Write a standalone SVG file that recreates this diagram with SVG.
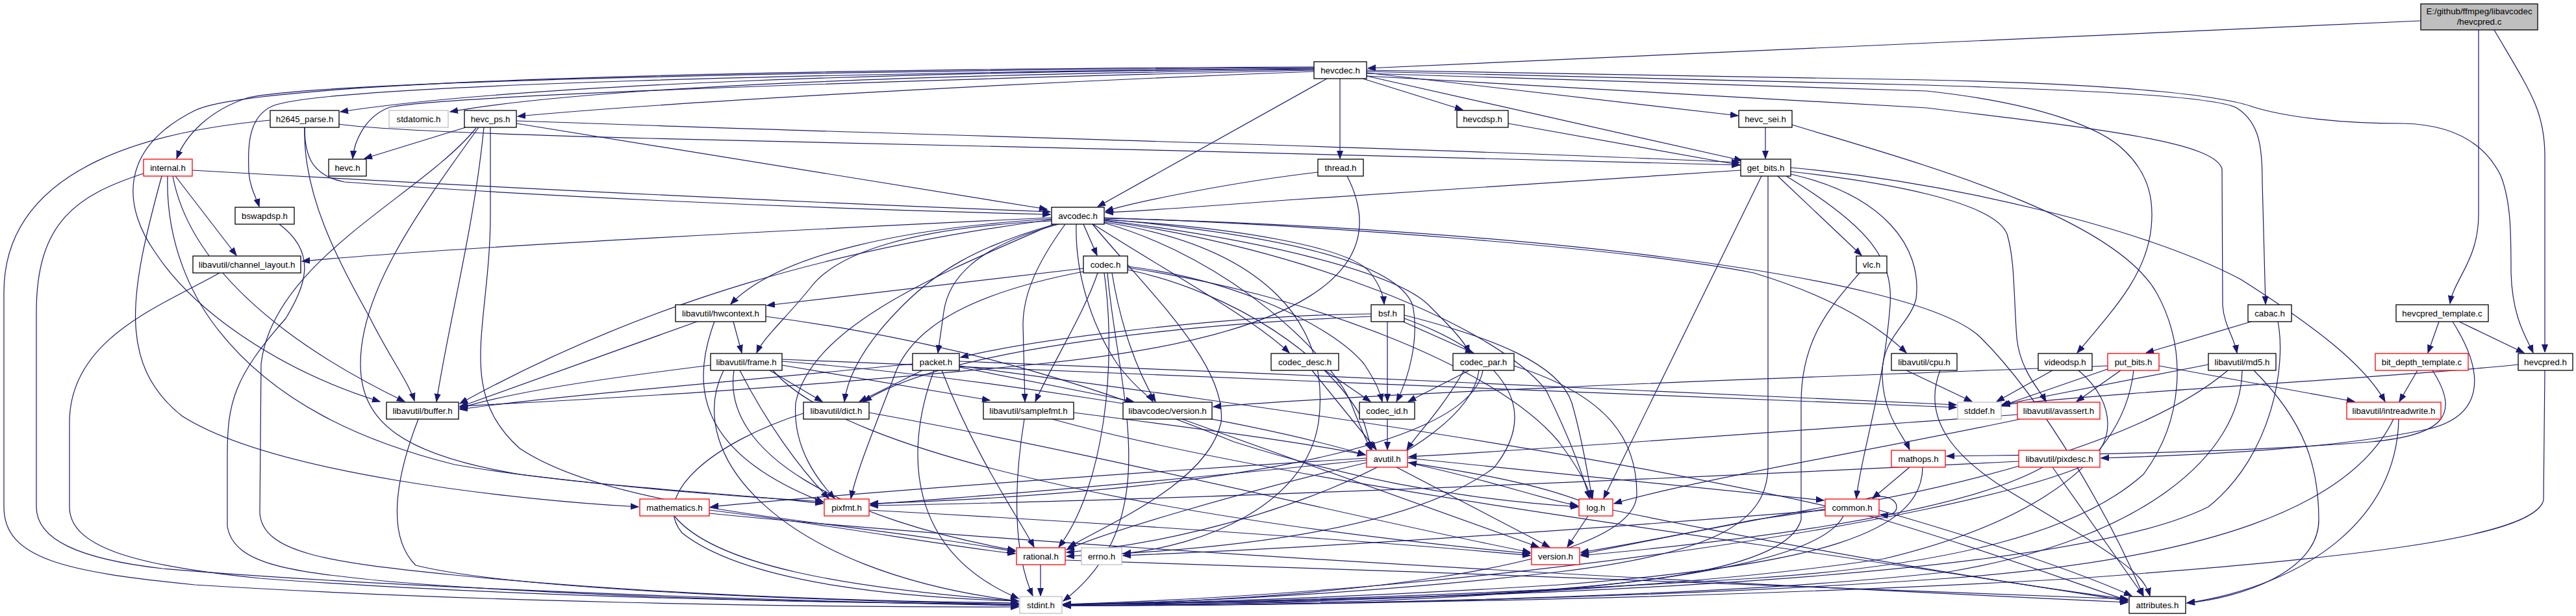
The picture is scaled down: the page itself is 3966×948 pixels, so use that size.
<svg xmlns="http://www.w3.org/2000/svg" width="3966" height="948" viewBox="0 0 3966 948">
<defs>
<marker id="a" markerWidth="13" markerHeight="11" refX="12" refY="5" orient="auto" markerUnits="userSpaceOnUse"><path d="M0,0.5 L12,5 L0,9.5 z" fill="#191970" stroke="#191970" stroke-width="1"/></marker>
<style>
.n rect{fill:#fff;stroke:#000;stroke-width:1.3}
.r rect{stroke:#ff0000}
.g rect{stroke:#bfbfbf}
.root rect{fill:#bfbfbf}
text{font-family:"Liberation Sans",Arial,sans-serif;font-size:13.3px;text-anchor:middle;fill:#000}
.e path{fill:none;stroke:#191970;stroke-width:1.2;marker-end:url(#a)}
</style>
</defs>
<rect width="3966" height="948" fill="#fff"/>
<g class="e" id="edges">
<!-- root -->
<path d="M3727,32 L2106,105"/>
<path d="M3816,46 L3816,330 C3816,400 3778,430 3772,467"/>
<path d="M3840,46 C3895,140 3918,170 3918,240 L3918,542"/>
<!-- hevcdec -->
<path d="M2023,106 C1400,110 800,130 524,172"/>
<path d="M2023,107 C1400,115 900,135 693,172"/>
<path d="M2023,110 C1500,130 1000,160 797,179"/>
<path d="M2023,104 C1300,108 500,125 383,150 C320,170 285,210 272,244"/>
<path d="M2023,108 C1500,120 700,145 600,165 C560,180 545,220 543,244"/>
<path d="M2023,105 C1300,112 500,130 420,163 C380,180 382,230 383,265 C385,290 395,305 399,318"/>
<path d="M2023,103 C1300,106 400,120 300,170 C180,230 190,320 240,390 C300,480 430,570 585,618"/>
<path d="M2043,121 L1690,318"/>
<path d="M2063,121 L2063,244"/>
<path d="M2098,121 L2252,169"/>
<path d="M2104,117 L2682,247"/>
<path d="M2104,112 L2676,178"/>
<path d="M2104,110 L2966,131 C3250,140 3420,150 3445,167 C3480,190 3483,230 3483,280 L3488,468"/>
<path d="M2104,108 L2966,123 C3300,130 3430,150 3470,165 C3520,180 3600,190 3700,190 C3790,192 3830,230 3850,270 C3866,310 3866,360 3866,420 C3868,490 3890,520 3900,543"/>
<path d="M2104,113 L2966,140 C3150,160 3240,200 3272,233 C3310,270 3316,310 3312,350 C3305,420 3260,470 3198,543"/>
<path d="M2104,117 L2966,166 C3250,200 3410,220 3421,260 L3422,470 C3424,500 3440,520 3444,543"/>
<!-- h2645 -->
<path d="M522,191 C560,197 700,205 1000,213 C1500,225 2200,240 2678,254"/>
<path d="M469,196 C469,240 480,270 530,280 C800,300 1200,320 1617,330"/>
<path d="M469,196 C466,300 520,400 570,490 C600,550 630,590 638,617"/>
<path d="M416,185 C250,200 6,250 6,450 L6,780 C6,860 100,880 300,900 C700,925 1200,935 1568,934"/>
<!-- hevc_ps -->
<path d="M795,186 L1000,193 C1500,210 2200,228 2678,250"/>
<path d="M795,190 L1612,322"/>
<path d="M717,196 L561,244"/>
<path d="M745,196 C730,350 690,500 672,618"/>
<path d="M737,196 C640,330 555,450 555,560 C555,650 620,700 800,730 C1000,755 1150,765 1267,772"/>
<path d="M755,196 L755,330 C755,500 700,600 800,690 C950,790 1300,800 1563,849"/>
<path d="M733,197 C650,300 420,400 402,560 L400,790 C405,850 500,865 700,885 C1000,915 1300,925 1568,928"/>
<!-- hevcdsp / hevc_sei -->
<path d="M2322,190 L2679,254"/>
<path d="M2718,196 L2718,244"/>
<path d="M2759,192 C2950,250 3250,330 3320,450 C3370,540 3360,650 3300,730 C3200,820 3000,870 2700,890 C2300,915 1900,928 1637,930"/>
<!-- internal -->
<path d="M296,262 C700,285 1200,310 1617,326"/>
<path d="M221,267 C120,300 56,340 56,480 L56,780 C56,830 120,860 250,875 C600,905 1200,925 1568,932"/>
<path d="M270,271 L364,393"/>
<path d="M249,271 C200,450 180,560 280,640 C420,730 800,770 983,780"/>
<path d="M266,271 C290,400 420,520 623,618"/>
<path d="M258,271 C255,380 300,460 330,500 C420,620 560,680 700,715 C900,750 1150,760 1267,775"/>
<!-- thread -->
<path d="M2029,265 C1900,280 1750,310 1702,325"/>
<path d="M2074,271 C2150,420 2000,520 1600,560 C1200,600 900,615 708,625"/>
<!-- get_bits -->
<path d="M2737,271 L2866,393"/>
<path d="M2680,262 L1980,308 C1850,318 1750,325 1702,327"/>
<path d="M2712,271 L2469,767"/>
<path d="M2722,271 L2722,720 C2720,800 2650,850 2400,880 C2100,915 1800,928 1637,930"/>
<path d="M2750,271 C2880,350 2915,400 2910,470 C2900,600 2865,700 2858,767"/>
<path d="M2757,268 C2900,300 2960,380 2950,460 C2940,500 2895,520 2898,580 C2900,640 2930,670 2940,692"/>
<path d="M2757,258 C3000,280 3300,350 3450,430 C3560,500 3640,560 3672,618"/>
<path d="M2757,264 C2900,280 3070,310 3090,360 C3102,400 3100,450 3105,520 C3110,570 3140,600 3150,618"/>
<!-- bswapdsp -->
<path d="M430,345 C490,390 470,440 440,490 C360,580 350,620 350,700 L350,810 C360,870 450,880 600,895 C900,920 1300,928 1568,930"/>
<!-- avcodec -->
<path d="M1619,335 C1300,350 700,380 465,402"/>
<path d="M1619,338 C1300,380 1000,460 708,621"/>
<path d="M1619,337 C1400,350 1200,390 1125,468"/>
<path d="M1619,340 C1400,350 1290,390 1250,440 C1210,490 1175,520 1165,543"/>
<path d="M1625,345 C1500,380 1440,420 1390,470 C1330,530 1305,580 1300,618"/>
<path d="M1630,345 C1500,380 1460,430 1453,480 L1444,543"/>
<path d="M1657,345 C1655,420 1680,500 1720,560 C1750,600 1770,610 1775,618"/>
<path d="M1668,345 L1689,393"/>
<path d="M1640,345 C1600,400 1575,450 1575,500 L1578,618"/>
<path d="M1700,335 C2000,345 2500,380 2700,420 C2800,450 2880,490 2935,543"/>
<path d="M1700,336 C2300,350 2950,420 3050,520 C3150,620 3250,800 3300,917"/>
<path d="M1700,342 C1950,380 2050,500 2030,650 C2010,780 1850,840 1729,852"/>
<path d="M1700,343 C1900,400 2050,550 2080,620 C2095,660 2105,680 2110,692"/>
<path d="M1700,340 C2000,380 2300,500 2380,600 C2420,680 2440,740 2447,767"/>
<path d="M1622,345 C1450,420 1250,500 1225,620 C1220,690 1260,740 1285,767"/>
<path d="M1682,345 C1760,440 1890,560 1880,650 C1860,740 1720,800 1645,842"/>
<path d="M1700,338 C1900,350 2080,380 2110,420 C2125,440 2130,455 2131,468"/>
<path d="M1683,345 C1800,420 1930,490 1985,543"/>
<path d="M1700,339 C1950,370 2150,420 2200,470 C2230,500 2255,525 2262,543"/>
<path d="M1700,337 C1950,360 2150,400 2175,470 C2185,520 2170,580 2150,618"/>
<!-- channel_layout -->
<path d="M338,420 C250,470 107,520 107,650 L107,780 C107,840 200,870 400,890 C800,920 1300,928 1568,930"/>
<!-- codec -->
<path d="M1668,413 L1181,470"/>
<path d="M1668,418 C1500,450 1410,500 1380,570 C1350,650 1320,720 1310,767"/>
<path d="M1736,415 C1900,450 2050,550 2100,650 L2112,692"/>
<path d="M1736,412 C2000,450 2300,560 2400,680 C2430,720 2445,750 2450,767"/>
<path d="M1700,420 C1720,560 1700,750 1630,842"/>
<path d="M1690,420 C1670,480 1620,560 1594,618"/>
<path d="M1736,410 C1900,430 2050,500 2100,560 C2120,590 2125,605 2128,618"/>
<path d="M1712,420 C1725,500 1750,570 1779,618"/>
<path d="M1705,420 C1720,600 1800,800 1637,925"/>
<!-- vlc -->
<path d="M2863,420 C2820,470 2773,520 2773,620 L2773,800 C2750,880 2500,905 2200,918 C1900,928 1700,930 1637,930"/>
<!-- hwcontext -->
<path d="M1073,495 L708,626"/>
<path d="M1129,495 L1142,543"/>
<path d="M1179,487 C1500,530 1700,600 1900,680 C2150,760 2350,775 2430,780"/>
<path d="M1100,495 C1060,600 1080,700 1268,773"/>
<!-- bsf -->
<path d="M2136,495 L2136,618"/>
<path d="M2160,495 L2268,543"/>
<path d="M2111,483 C1900,485 1600,520 1479,550"/>
<path d="M2111,487 C1800,500 1450,540 1330,618"/>
<path d="M2162,485 C2300,520 2400,560 2420,620 C2440,690 2445,740 2452,767"/>
<path d="M2162,490 C2300,540 2380,620 2300,720 C2150,830 1800,850 1642,856"/>
<!-- cabac -->
<path d="M3466,495 L3304,543"/>
<path d="M3507,495 C3520,560 3500,700 3400,780 C3200,880 2500,920 1637,930"/>
<!-- hevcpred_template -->
<path d="M3755,495 L3738,543"/>
<path d="M3786,495 L3886,543"/>
<path d="M3776,495 C3830,580 3820,640 3740,660 C3600,690 3400,700 3235,705"/>
<!-- frame -->
<path d="M1094,562 C950,580 800,600 708,628"/>
<path d="M1185,570 L1266,618"/>
<path d="M1204,562 L1524,616"/>
<path d="M1204,556 C1500,580 1900,640 2102,700"/>
<path d="M1139,570 C1180,650 1230,720 1276,767"/>
<path d="M1130,570 C1110,700 1300,800 1563,847"/>
<path d="M1204,553 C1700,570 2500,610 3012,627"/>
<path d="M1114,570 C1050,700 1200,880 1568,925"/>
<path d="M1190,570 C1300,700 1800,800 2356,852"/>
<!-- packet -->
<path d="M1420,570 L1323,618"/>
<path d="M1405,560 C1100,590 850,610 708,630"/>
<path d="M1477,565 L1745,618"/>
<path d="M1450,570 C1500,700 1570,800 1592,842"/>
<path d="M1438,570 C1390,700 1400,850 1568,921"/>
<path d="M1477,556 C2000,575 2600,605 3012,623"/>
<path d="M1477,563 C1900,620 2500,700 2900,800 C3100,860 3200,900 3276,924"/>
<!-- codec_desc -->
<path d="M2040,570 L2110,618"/>
<path d="M2020,570 L2119,692"/>
<!-- codec_par -->
<path d="M2262,570 L2168,618"/>
<path d="M2254,570 C2220,630 2180,670 2166,692"/>
<path d="M2277,570 C2260,700 1900,830 1642,850"/>
<path d="M2283,570 C2260,700 1800,760 1340,775"/>
<path d="M2331,563 C2480,610 2520,680 2520,760 C2520,880 2000,925 1637,931"/>
<!-- cpu -->
<path d="M2935,570 L3036,618"/>
<path d="M2987,570 C2960,640 3000,700 3100,760 C3250,850 3300,880 3310,917"/>
<!-- videodsp -->
<path d="M3160,570 L3074,618"/>
<path d="M3200,570 C3260,620 3260,690 3200,720 C3000,800 2300,910 1637,930"/>
<!-- put_bits -->
<path d="M3245,568 L3080,625"/>
<path d="M3265,570 L3197,618"/>
<path d="M3324,563 L3625,618"/>
<path d="M3285,570 C3270,700 3150,800 2900,860 C2500,920 1900,930 1637,932"/>
<path d="M3245,563 C2800,580 2200,600 1868,626"/>
<!-- md5 -->
<path d="M3400,561 L3082,623"/>
<path d="M3452,570 C3450,700 3300,830 3000,880 C2600,925 1900,932 1637,932"/>
<path d="M3430,570 C3300,680 3000,760 2700,800 C2550,830 2450,850 2434,853"/>
<path d="M3470,570 C3550,650 3570,720 3570,800 C3570,880 3450,920 3367,928"/>
<!-- bit_depth -->
<path d="M3722,570 L3694,618"/>
<path d="M3745,570 C3790,640 3760,670 3650,680 C3400,700 3100,700 2997,702"/>
<!-- hevcpred -->
<path d="M3877,561 C3700,580 3300,600 3083,623"/>
<path d="M3918,570 L3916,770 C3900,830 3600,860 3200,890 C2600,925 1900,932 1637,932"/>
<!-- buffer -->
<path d="M644,645 C615,720 590,820 640,870 C800,910 1300,925 1568,930"/>
<!-- dict -->
<path d="M1237,636 C1100,680 1000,760 1050,820 C1150,900 1400,920 1568,925"/>
<path d="M1338,635 C1700,700 2100,800 2356,850"/>
<!-- samplefmt -->
<path d="M1577,645 C1560,750 1560,850 1590,917"/>
<path d="M1653,635 C1850,660 2000,680 2102,700"/>
<path d="M1620,645 C2000,750 2700,830 3276,925"/>
<!-- lavc version -->
<path d="M1820,645 L2369,842"/>
<!-- codec_id -->
<path d="M2136,645 L2136,692"/>
<!-- avassert -->
<path d="M3106,638 C2800,660 2400,690 2169,703"/>
<path d="M3110,645 C2900,690 2600,740 2485,775"/>
<!-- intreadwrite -->
<path d="M3685,645 C3620,780 3400,860 3000,890 C2500,925 1900,932 1637,932"/>
<path d="M3693,645 C3690,800 3550,900 3367,928"/>
<!-- avutil -->
<path d="M2167,712 C2300,740 2380,770 2429,778"/>
<path d="M2167,705 L2808,770"/>
<path d="M2150,719 L2386,842"/>
<path d="M2104,712 C1900,760 1700,820 1642,846"/>
<path d="M2104,705 C1700,730 1300,760 1094,780"/>
<path d="M2104,708 C1800,740 1500,765 1340,776"/>
<!-- mathops -->
<path d="M2940,719 L2883,767"/>
<path d="M2960,719 C2960,820 2800,870 2400,900 C2000,925 1700,930 1637,930"/>
<!-- pixdesc -->
<path d="M3108,710 C2500,740 1800,770 1340,778"/>
<path d="M3145,719 C3000,800 2600,840 2434,855"/>
<path d="M3160,719 L3300,917"/>
<!-- mathematics -->
<path d="M1038,794 C1100,870 1300,905 1568,925"/>
<path d="M1092,790 C1700,850 2700,900 3276,927"/>
<path d="M1092,785 C1300,810 1450,840 1563,852"/>
<!-- pixfmt -->
<path d="M1338,785 C1800,810 2200,840 2356,855"/>
<!-- log -->
<path d="M2431,770 C2350,740 2250,725 2169,712"/>
<path d="M2445,794 L2413,842"/>
<path d="M2483,785 C2800,850 3100,900 3276,922"/>
<!-- common -->
<path d="M2810,780 C2650,810 2500,840 2434,850"/>
<path d="M2838,794 C2800,870 2500,910 2100,925 C1900,930 1700,930 1637,930"/>
<path d="M2893,785 C3050,830 3200,880 3282,917"/>
<path d="M2810,785 C2500,810 2100,840 1729,855"/>
<path d="M2872,768 C2905,758 2920,770 2920,780 C2920,790 2910,794 2895,792"/>
<!-- rational -->
<path d="M1602,869 L1602,917"/>
<path d="M1640,862 C2200,880 2900,905 3276,922"/>
</g>
<g id="n_root" class="n root"><rect x="3727" y="6" width="180" height="40"/><text x="3817" y="22">E:/github/ffmpeg/libavcodec</text><text x="3817" y="38">/hevcpred.c</text></g>
<g id="n_hevcdec" class="n"><rect x="2023" y="95" width="81" height="26"/><text x="2063.5" y="113">hevcdec.h</text></g>
<g id="n_h2645" class="n"><rect x="416" y="170" width="106" height="26"/><text x="469" y="188">h2645_parse.h</text></g>
<g id="n_stdatomic" class="n g"><rect x="599" y="170" width="91" height="26"/><text x="644.5" y="188">stdatomic.h</text></g>
<g id="n_hevc_ps" class="n"><rect x="715" y="170" width="80" height="26"/><text x="755" y="188">hevc_ps.h</text></g>
<g id="n_hevcdsp" class="n"><rect x="2243" y="170" width="79" height="26"/><text x="2282.5" y="188">hevcdsp.h</text></g>
<g id="n_hevc_sei" class="n"><rect x="2677" y="170" width="82" height="26"/><text x="2718" y="188">hevc_sei.h</text></g>
<g id="n_internal" class="n r"><rect x="221" y="245" width="75" height="26"/><text x="258.5" y="263">internal.h</text></g>
<g id="n_hevc" class="n"><rect x="506" y="245" width="58" height="26"/><text x="535" y="263">hevc.h</text></g>
<g id="n_thread" class="n"><rect x="2029" y="245" width="70" height="26"/><text x="2064" y="263">thread.h</text></g>
<g id="n_get_bits" class="n"><rect x="2680" y="245" width="77" height="26"/><text x="2718.5" y="263">get_bits.h</text></g>
<g id="n_bswapdsp" class="n"><rect x="362" y="319" width="91" height="26"/><text x="407.5" y="337">bswapdsp.h</text></g>
<g id="n_avcodec" class="n"><rect x="1619" y="319" width="81" height="26"/><text x="1659.5" y="337">avcodec.h</text></g>
<g id="n_channel_layout" class="n"><rect x="297" y="394" width="166" height="26"/><text x="380" y="412">libavutil/channel_layout.h</text></g>
<g id="n_codec" class="n"><rect x="1668" y="394" width="68" height="26"/><text x="1702" y="412">codec.h</text></g>
<g id="n_vlc" class="n"><rect x="2858" y="394" width="47" height="26"/><text x="2881.5" y="412">vlc.h</text></g>
<g id="n_hwcontext" class="n"><rect x="1040" y="469" width="139" height="26"/><text x="1109.5" y="487">libavutil/hwcontext.h</text></g>
<g id="n_bsf" class="n"><rect x="2111" y="469" width="51" height="26"/><text x="2136.5" y="487">bsf.h</text></g>
<g id="n_cabac" class="n"><rect x="3461" y="469" width="67" height="26"/><text x="3494.5" y="487">cabac.h</text></g>
<g id="n_hevcpred_template" class="n"><rect x="3689" y="469" width="142" height="26"/><text x="3760" y="487">hevcpred_template.c</text></g>
<g id="n_frame" class="n"><rect x="1094" y="544" width="110" height="26"/><text x="1149" y="562">libavutil/frame.h</text></g>
<g id="n_packet" class="n"><rect x="1405" y="544" width="72" height="26"/><text x="1441" y="562">packet.h</text></g>
<g id="n_codec_desc" class="n"><rect x="1957" y="544" width="104" height="26"/><text x="2009" y="562">codec_desc.h</text></g>
<g id="n_codec_par" class="n"><rect x="2237" y="544" width="94" height="26"/><text x="2284" y="562">codec_par.h</text></g>
<g id="n_cpu" class="n"><rect x="2912" y="544" width="101" height="26"/><text x="2962.5" y="562">libavutil/cpu.h</text></g>
<g id="n_videodsp" class="n"><rect x="3138" y="544" width="83" height="26"/><text x="3179.5" y="562">videodsp.h</text></g>
<g id="n_put_bits" class="n r"><rect x="3245" y="544" width="79" height="26"/><text x="3284.5" y="562">put_bits.h</text></g>
<g id="n_md5" class="n"><rect x="3400" y="544" width="104" height="26"/><text x="3452" y="562">libavutil/md5.h</text></g>
<g id="n_bit_depth" class="n r"><rect x="3657" y="544" width="143" height="26"/><text x="3728.5" y="562">bit_depth_template.c</text></g>
<g id="n_hevcpred" class="n"><rect x="3877" y="544" width="84" height="26"/><text x="3919" y="562">hevcpred.h</text></g>
<g id="n_buffer" class="n"><rect x="595" y="619" width="111" height="26"/><text x="650.5" y="637">libavutil/buffer.h</text></g>
<g id="n_dict" class="n"><rect x="1237" y="619" width="101" height="26"/><text x="1287.5" y="637">libavutil/dict.h</text></g>
<g id="n_samplefmt" class="n"><rect x="1514" y="619" width="139" height="26"/><text x="1583.5" y="637">libavutil/samplefmt.h</text></g>
<g id="n_lavc_version" class="n"><rect x="1729" y="619" width="137" height="26"/><text x="1797.5" y="637">libavcodec/version.h</text></g>
<g id="n_codec_id" class="n"><rect x="2093" y="619" width="85" height="26"/><text x="2135.5" y="637">codec_id.h</text></g>
<g id="n_stddef" class="n g"><rect x="3014" y="619" width="67" height="26"/><text x="3047.5" y="637">stddef.h</text></g>
<g id="n_avassert" class="n r"><rect x="3106" y="619" width="127" height="26"/><text x="3169.5" y="637">libavutil/avassert.h</text></g>
<g id="n_intreadwrite" class="n r"><rect x="3613" y="619" width="145" height="26"/><text x="3685.5" y="637">libavutil/intreadwrite.h</text></g>
<g id="n_avutil" class="n r"><rect x="2104" y="693" width="63" height="26"/><text x="2135.5" y="711">avutil.h</text></g>
<g id="n_mathops" class="n r"><rect x="2912" y="693" width="83" height="26"/><text x="2953.5" y="711">mathops.h</text></g>
<g id="n_pixdesc" class="n r"><rect x="3108" y="693" width="125" height="26"/><text x="3170.5" y="711">libavutil/pixdesc.h</text></g>
<g id="n_mathematics" class="n r"><rect x="985" y="768" width="107" height="26"/><text x="1038.5" y="786">mathematics.h</text></g>
<g id="n_pixfmt" class="n r"><rect x="1269" y="768" width="69" height="26"/><text x="1303.5" y="786">pixfmt.h</text></g>
<g id="n_log" class="n r"><rect x="2431" y="768" width="52" height="26"/><text x="2457" y="786">log.h</text></g>
<g id="n_common" class="n r"><rect x="2810" y="768" width="83" height="26"/><text x="2851.5" y="786">common.h</text></g>
<g id="n_rational" class="n r"><rect x="1565" y="843" width="75" height="26"/><text x="1602.5" y="861">rational.h</text></g>
<g id="n_errno" class="n g"><rect x="1665" y="843" width="62" height="26"/><text x="1696" y="861">errno.h</text></g>
<g id="n_version" class="n r"><rect x="2358" y="843" width="74" height="26"/><text x="2395" y="861">version.h</text></g>
<g id="n_stdint" class="n g"><rect x="1570" y="918" width="65" height="26"/><text x="1602.5" y="936">stdint.h</text></g>
<g id="n_attributes" class="n"><rect x="3278" y="918" width="87" height="26"/><text x="3321.5" y="936">attributes.h</text></g>
</svg>
